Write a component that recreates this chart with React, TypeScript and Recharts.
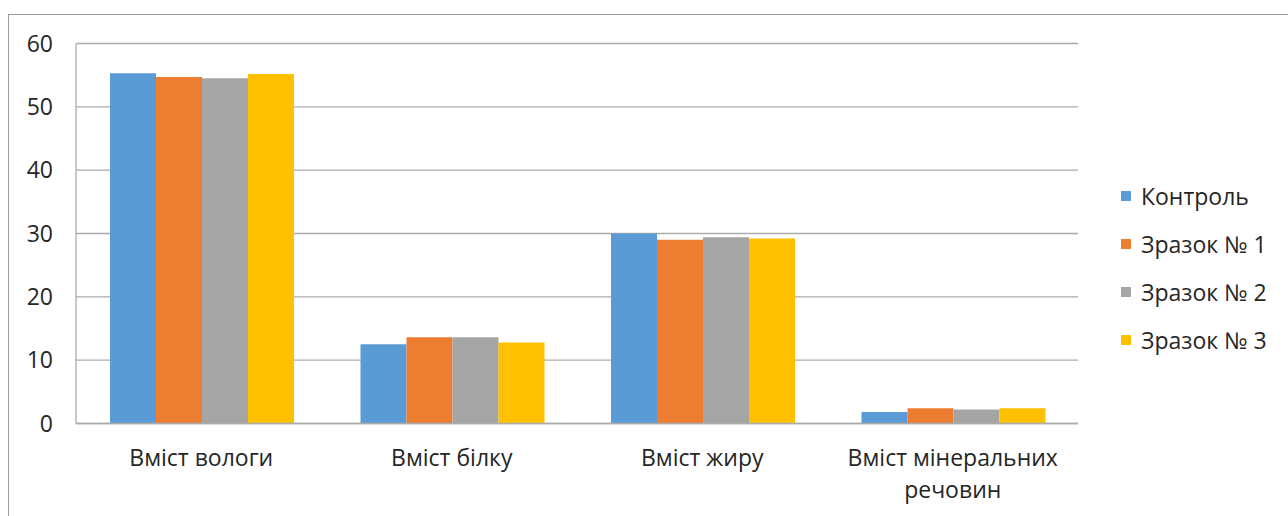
import React from "react";
import { BarChart, Bar, XAxis, YAxis, CartesianGrid, Legend } from "recharts";

// Composition indicators per sample
const categories = ["Вміст вологи", "Вміст білку", "Вміст жиру", "Вміст мінеральних речовин"];
const seriesNames = ["Контроль", "Зразок № 1", "Зразок № 2", "Зразок № 3"];
const control = [55.3, 12.5, 30.0, 1.8];
const sample1 = [54.7, 13.6, 29.0, 2.4];
const sample2 = [54.5, 13.6, 29.4, 2.2];
const sample3 = [55.2, 12.8, 29.2, 2.4];
const yTicks = [0, 10, 20, 30, 40, 50, 60];

const colors = ["#5B9BD5", "#ED7D31", "#A5A5A5", "#FFC000"];
const FONT = "'Open Sans', 'Noto Sans', sans-serif";
const FONT_SIZE = 23;
const TEXT_COLOR = "#262626";
const GRID = "#ababab";
const MAX_LINE_CHARS = 18;

const seriesValues = [control, sample1, sample2, sample3];
const data = categories.map((name, i) => {
  const row: Record<string, string | number> = { name };
  seriesNames.forEach((s, k) => {
    row[s] = seriesValues[k][i];
  });
  return row;
});

// Greedy word wrap by character count
const wrapLabel = (label: string): string[] => {
  const lines: string[] = [];
  let current = "";
  label.split(" ").forEach((word) => {
    const next = current ? `${current} ${word}` : word;
    if (next.length > MAX_LINE_CHARS && current) {
      lines.push(current);
      current = word;
    } else {
      current = next;
    }
  });
  if (current) lines.push(current);
  return lines;
};

const CategoryTick = (props: any) => {
  const { x, y, payload } = props;
  const lines = wrapLabel(String(payload.value));
  return (
    <text
      x={x}
      y={y + 34}
      textAnchor="middle"
      fill={TEXT_COLOR}
      style={{ fontFamily: FONT, fontSize: FONT_SIZE }}
    >
      {lines.map((line, i) => (
        <tspan key={i} x={x} dy={i === 0 ? 0 : 32}>
          {line}
        </tspan>
      ))}
    </text>
  );
};

const LegendContent = (props: any) => {
  const payload = [...(props.payload || [])].sort(
    (a: any, b: any) => seriesNames.indexOf(a.value) - seriesNames.indexOf(b.value)
  );
  return (
    <div style={{ fontFamily: FONT, fontSize: FONT_SIZE, color: TEXT_COLOR }}>
      {payload.map((entry: any) => (
        <div
          key={entry.value}
          style={{ display: "flex", alignItems: "center", height: 48, whiteSpace: "nowrap" }}
        >
          <span
            style={{
              display: "inline-block",
              width: 10,
              height: 10,
              background: entry.color,
              marginRight: 10,
            }}
          />
          <span>{entry.value}</span>
        </div>
      ))}
    </div>
  );
};

export default function App() {
  return (
    <div style={{ position: "absolute", left: 0, top: 0, width: 1288, height: 516, background: "#fff", overflow: "hidden" }}>
      <div
        style={{
          position: "absolute",
          left: 8,
          top: 14,
          width: 1300,
          height: 520,
          borderLeft: "1px solid #9c9c9c",
          borderTop: "1px solid #9c9c9c",
        }}
      />
      <div style={{ position: "absolute", left: 0, top: 0 }}>
        <BarChart
          width={1288}
          height={516}
          data={data}
          margin={{ top: 43.5, right: 210, bottom: 32.5, left: 16 }}
          barCategoryGap={34}
          barGap={0}
        >
          <CartesianGrid vertical={false} stroke={GRID} strokeWidth={1.3} />
          <XAxis
            dataKey="name"
            height={60}
            axisLine={{ stroke: GRID, strokeWidth: 1.3 }}
            tickLine={false}
            tick={<CategoryTick />}
            interval={0}
          />
          <YAxis
            width={60}
            domain={[0, 60]}
            ticks={yTicks}
            axisLine={{ stroke: GRID, strokeWidth: 1.3 }}
            tickLine={false}
            tickMargin={17}
            tick={{ fill: TEXT_COLOR, fontSize: FONT_SIZE, fontFamily: FONT }}
          />
          <Legend
            layout="vertical"
            align="center"
            verticalAlign="middle"
            wrapperStyle={{ left: 1121, top: 172, width: 166 }}
            content={<LegendContent />}
          />
          {seriesNames.map((s, k) => (
            <Bar key={s} dataKey={s} fill={colors[k]} isAnimationActive={false} />
          ))}
        </BarChart>
      </div>
    </div>
  );
}
